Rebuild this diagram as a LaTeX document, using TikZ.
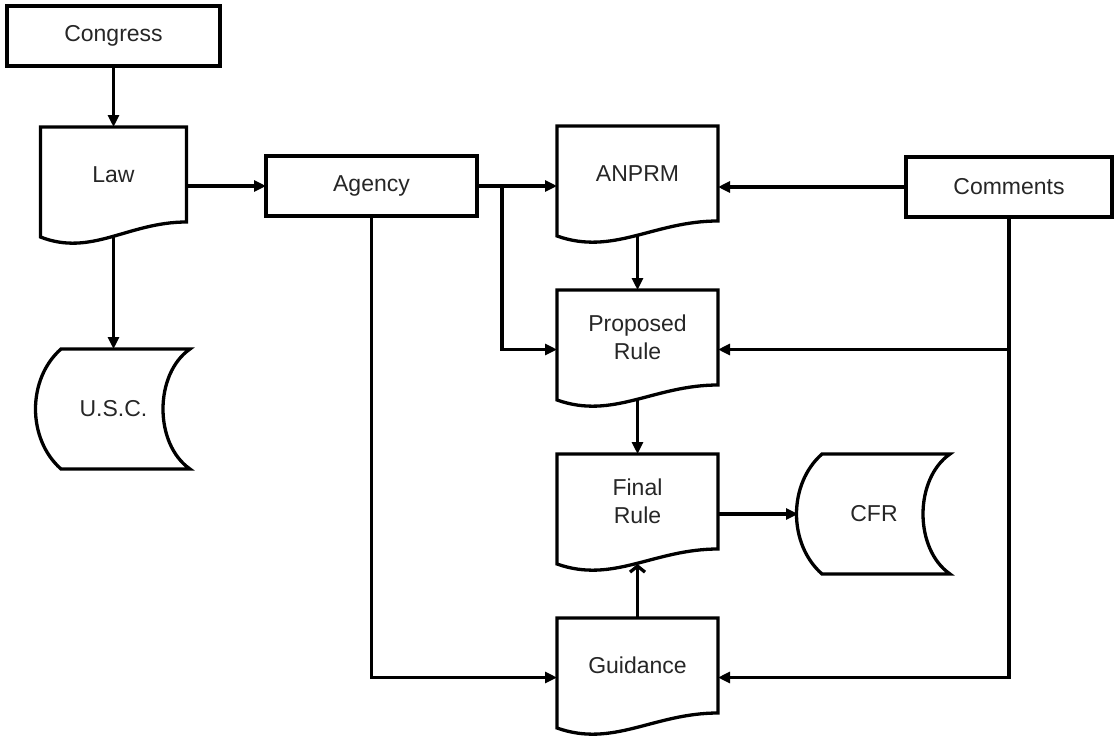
\documentclass[tikz,border=0pt]{standalone}
\usepackage{fontspec}
\setmainfont{Liberation Sans}
\usetikzlibrary{arrows.meta,positioning,calc}
\definecolor{FLOW-TEXT}{RGB}{38, 38, 38}

\tikzset{
  outline/.style={line width=3.3pt, black},
  boxnode/.style={draw, outline, minimum height=60pt, inner sep=0pt, outer sep=0pt, text=FLOW-TEXT},
  docnode/.style={minimum width=161pt, minimum height=95pt, inner sep=0pt, outer sep=0pt, align=center, text=FLOW-TEXT},
  storenode/.style={minimum width=152pt, minimum height=120pt, inner sep=0pt, outer sep=0pt, text=FLOW-TEXT},
  conn/.style={line width=3.3pt, -{Triangle[length=12pt,width=11pt]}},
  openconn/.style={line width=3.3pt, -{Straight Barb[length=6pt,width=15pt]}},
}

% document outline (wavy bottom) round a node
\newcommand{\docoutline}[1]{%
  \draw[outline] (#1.north west) -- (#1.north east) -- (#1.south east)
    .. controls ($(#1.south west)!0.6!(#1.south east)$) and ($(#1.south west)!0.35!(#1.south east)+(0,35)$)
    .. ($(#1.south west)+(0,15)$) -- cycle;}

% stored data outline round a node
\newcommand{\storeoutline}[1]{%
  \draw[outline] ($(#1.north west)+(24,0)$) -- (#1.north east)
    .. controls ($(#1.north east)+(-36,25)$) and ($(#1.south east)+(-36,-25)$) .. (#1.south east)
    -- ($(#1.south west)+(24,0)$)
    .. controls ($(#1.south west)+(-10,-30)$) and ($(#1.north west)+(-10,30)$) .. ($(#1.north west)+(24,0)$) -- cycle;}

\begin{document}
\begin{tikzpicture}[x=1pt, y=-1pt, every node/.style={font=\fontsize{23}{28}\selectfont}]
  \useasboundingbox (0,0) rectangle (1115,736);

  % Left column
  \node[boxnode, minimum width=213pt] (congress) at (113.5,36) {Congress};
  \node[docnode, minimum width=146pt] (law) at (113.5,174.5) {Law};
  \node[storenode, minimum width=153pt] (usc) at (113.5,409) {U.S.C.};
  \docoutline{law}
  \storeoutline{usc}

  % Agency and comments
  \node[boxnode, minimum width=211pt] (agency) at (371.5,186) {Agency};
  \node[boxnode, minimum width=206pt] (comments) at (1009,187) {Comments};

  % Rule making documents
  \node[docnode] (anprm) at (637.5,173.5) {ANPRM};
  \node[docnode] (proposed) at (637.5,337.5) {Proposed\\Rule};
  \node[docnode] (final) at (637.5,501.5) {Final\\Rule};
  \node[docnode] (guidance) at (637.5,665.5) {Guidance};
  \node[storenode] (cfr) at (874,514) {CFR};
  \docoutline{anprm}
  \docoutline{proposed}
  \docoutline{final}
  \docoutline{guidance}
  \storeoutline{cfr}

  \coordinate (prop-in) at ($(proposed.center)+(0,12)$);
  \coordinate (guid-in) at ($(guidance.center)+(0,12)$);
  \coordinate (fork) at ($(agency.east)+(25,0)$);

  % Connectors
  \draw[conn] (congress.south) -- (law.north);
  \draw[conn] (law.east |- agency) -- (agency.west);
  \draw[conn] ($(law.south)+(0,15)$) -- (usc.north);
  \draw[conn] (agency.east) -- (anprm.west |- agency);
  \draw[conn] (fork) |- (proposed.west |- prop-in);
  \draw[conn] (agency.south) |- (guidance.west |- guid-in);
  \draw[conn] (comments.west) -- (anprm.east |- comments);
  \draw[conn] (comments.south) |- (guidance.east |- guid-in);
  \draw[conn] (comments.south |- prop-in) -- (proposed.east |- prop-in);
  \draw[conn] ($(anprm.south)+(0,15)$) -- (proposed.north);
  \draw[conn] ($(proposed.south)+(0,15)$) -- (final.north);
  \draw[conn] (final.east |- cfr) -- (cfr.west);
  \draw[openconn] (guidance.north) -- ($(final.south)+(0,15)$);
\end{tikzpicture}
\end{document}
